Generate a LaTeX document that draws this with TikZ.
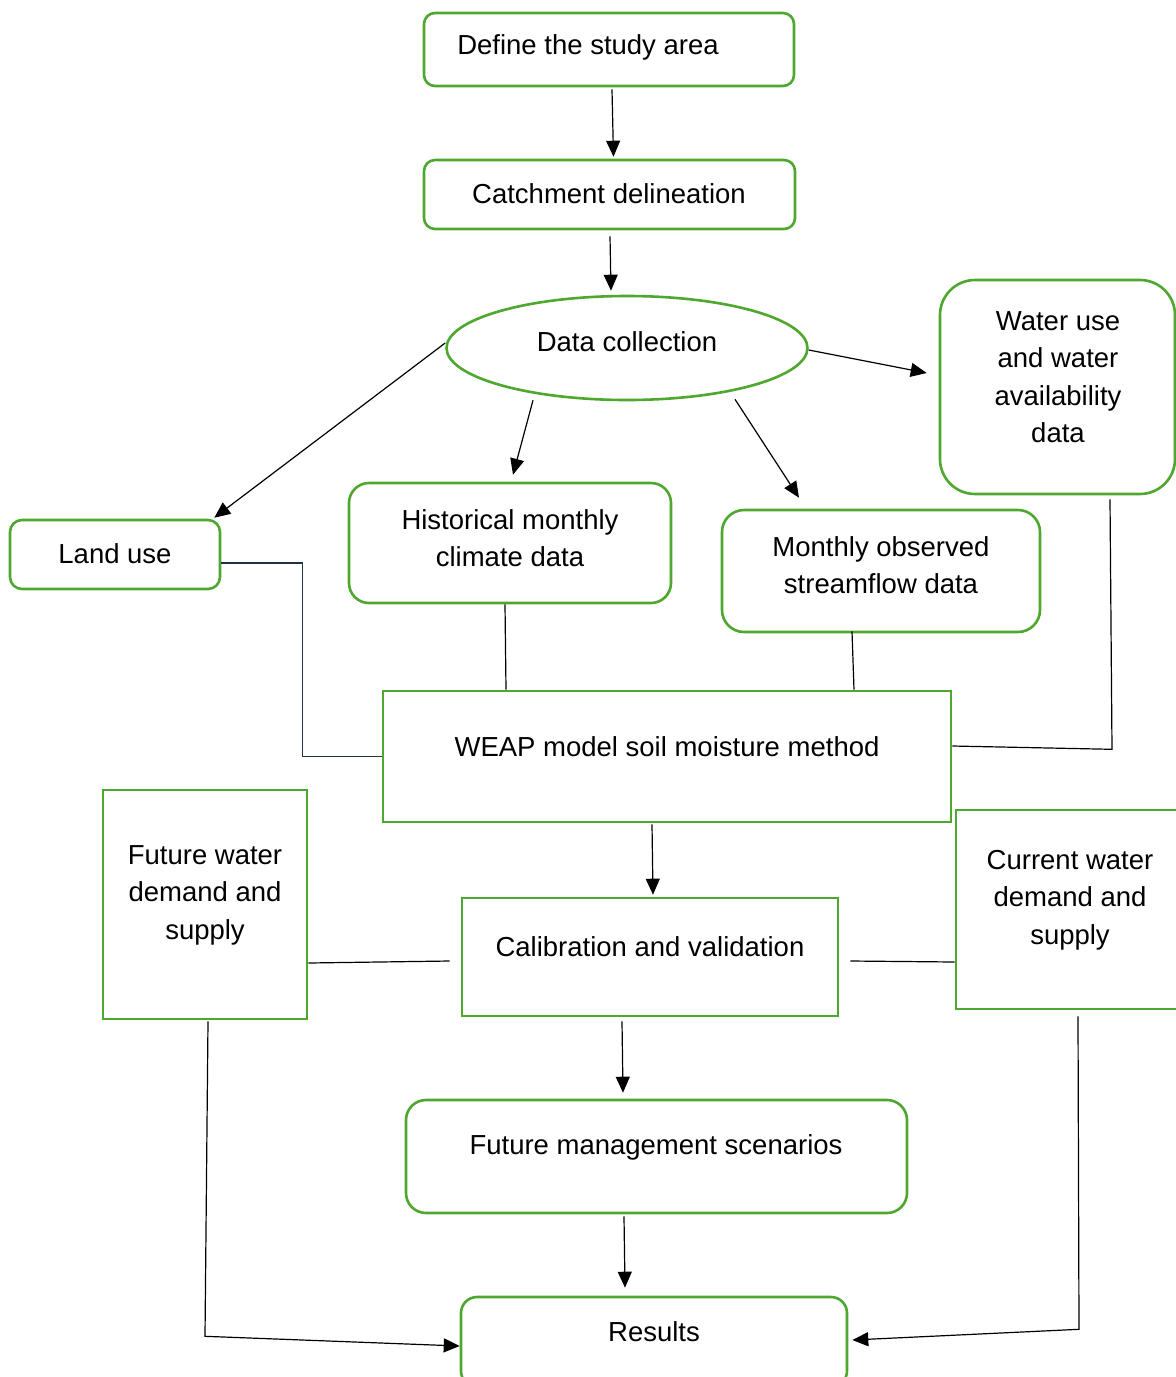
\documentclass[tikz,border=0pt]{standalone}
\usepackage{fontspec}
\setmainfont{Liberation Sans}
\usetikzlibrary{arrows.meta,shapes.geometric,calc}
\definecolor{boxgreen}{HTML}{4EA72E}
\definecolor{navyline}{HTML}{203246}
\begin{document}
\begin{tikzpicture}[x=1pt,y=-1pt,
  box/.style={draw=boxgreen,line width=2.6pt,inner sep=0pt,fill=white},
  rbox/.style={box,rounded corners=#1},
  lbl/.style={font=\fontsize{27.5}{37.5}\selectfont,align=center,inner sep=0pt,text=black},
  arr/.style={-{Triangle[length=16pt,width=14pt]},line width=1.2pt,black},
  conn/.style={line width=1.2pt,black}]
\useasboundingbox (0,0) rectangle (1176,1377);

% boxes
\node[rbox=11pt,minimum width=370pt,minimum height=73pt] (define) at (609,49.5) {};
\node[rbox=11pt,minimum width=371pt,minimum height=69pt] (catch) at (609.5,194.5) {};
\node[box,ellipse,minimum width=361pt,minimum height=104pt] (data) at (627,348) {};
\node[rbox=35pt,minimum width=235pt,minimum height=214pt] (water) at (1057.5,387) {};
\node[rbox=12pt,minimum width=210pt,minimum height=69pt] (land) at (115,554.5) {};
\node[rbox=20pt,minimum width=322pt,minimum height=120pt] (hist) at (510,543) {};
\node[rbox=22pt,minimum width=318pt,minimum height=122pt] (mon) at (881,571) {};
\node[box,minimum width=568pt,minimum height=131pt] (weap) at (667,756.5) {};
\node[box,minimum width=204pt,minimum height=229pt] (fut) at (205,904.5) {};
\node[box,minimum width=228pt,minimum height=199pt] (cur) at (1070,909.5) {};
\node[box,minimum width=376pt,minimum height=118pt] (calib) at (650,957) {};
\node[rbox=20pt,minimum width=501pt,minimum height=113pt] (mgmt) at (656.5,1156.5) {};
\node[rbox=16pt,minimum width=386pt,minimum height=90pt] (res) at (654,1342) {};

% texts
\node[lbl] (define-t) at (588,47) {Define the study area};
\node[lbl] (catch-t) at (609,194) {Catchment delineation};
\node[lbl] (data-t) at (627,342) {Data collection};
\node[lbl] (water-t) at (1058,377) {Water use\\and water\\availability\\data};
\node[lbl] (land-t) at (115,554) {Land use};
\node[lbl] (hist-t) at (510,538) {Historical monthly\\climate data};
\node[lbl] (mon-t) at (881,565) {Monthly observed\\streamflow data};
\node[lbl] (weap-t) at (667,747) {WEAP model soil moisture method};
\node[lbl] (fut-t) at (205,895) {Future water\\demand and\\supply};
\node[lbl] (cur-t) at (1070,900) {Current water\\demand and\\supply};
\node[lbl] (calib-t) at (650,947) {Calibration and validation};
\node[lbl] (mgmt-t) at (656,1147) {Future management scenarios};
\node[lbl] (res-t) at (654,1332) {Results};

% arrows
\draw[arr] ([xshift=3pt,yshift=-2pt]define.south) -- ([xshift=4pt,yshift=2pt]catch.north);
\draw[arr] ([xshift=0.5pt,yshift=-6pt]catch.south) -- ([xshift=-16pt,yshift=4pt]data.north);
\draw[arr] ([yshift=5pt]data.west) -- ([xshift=-7pt,yshift=1pt]land.north east);
\draw[arr] ([xshift=-94pt,yshift=1pt]data.south) -- ([xshift=3pt,yshift=7pt]hist.north);
\draw[arr] ([xshift=108pt,yshift=2pt]data.south) -- ([xshift=-82pt,yshift=11pt]mon.north);
\draw[arr] ([yshift=-2pt]data.east) -- ([xshift=-12pt,yshift=14pt]water.west);

% lines into WEAP
\draw[line width=1.2pt,navyline] ([yshift=-8.5pt]land.east) -- ++(81,0) |- (weap.west);
\draw[conn] ([xshift=-5pt]hist.south) -- ([xshift=-4pt]hist.south |- weap.north);
\draw[conn] ([xshift=-29pt,yshift=2pt]mon.south) -- ([xshift=-27pt]mon.south |- weap.north);
\draw[conn] ([xshift=52.5pt,yshift=-4pt]water.south) -- ++(2,250) -- ([yshift=10.5pt]weap.east);

\draw[arr] ([xshift=-15pt,yshift=-1pt]weap.south) -- ([xshift=3pt,yshift=2pt]calib.north);
\draw[conn] ([yshift=-58.5pt]fut.east) -- ([xshift=-11pt,yshift=-4pt]calib.west);
\draw[conn] ([xshift=11pt,yshift=-4pt]calib.east) -- ([yshift=-52.5pt]cur.west);
\draw[arr] ([xshift=-28pt,yshift=-4pt]calib.south) -- ([xshift=-33.5pt,yshift=6pt]mgmt.north);
\draw[arr] ([xshift=-32.5pt,yshift=-2pt]mgmt.south) -- ([xshift=-29pt,yshift=8pt]res.north);
\draw[arr] ([xshift=3pt,yshift=-1pt]fut.south) -- ++(-3,315) -- ([yshift=-4pt]res.west);
\draw[arr] ([xshift=8pt,yshift=-6pt]cur.south) -- ++(1,313) -- ([xshift=4pt,yshift=2pt]res.east);
\end{tikzpicture}
\end{document}
